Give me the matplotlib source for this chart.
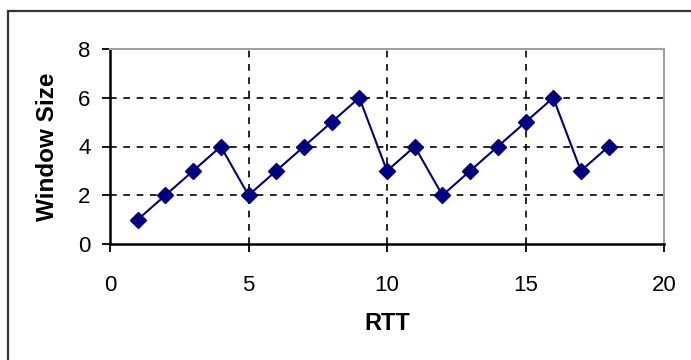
import matplotlib.pyplot as plt
import matplotlib.patches as patches

rtt = [1, 2, 3, 4, 5, 6, 7, 8, 9, 10, 11, 12, 13, 14, 15, 16, 17, 18]
window = [1, 2, 3, 4, 2, 3, 4, 5, 6, 3, 4, 2, 3, 4, 5, 6, 3, 4]
xticks = [0, 5, 10, 15, 20]
yticks = [0, 2, 4, 6, 8]

plt.rcParams['font.family'] = ['Liberation Sans', 'DejaVu Sans']

fig = plt.figure(figsize=(6.91, 3.6), dpi=100)
ax = fig.add_axes([110/691, 1-244/360, (664-110)/691, (244-49)/360])

# outer chart-area border (only left/top visible in the crop)
fig.patches.append(patches.Rectangle((8/691, -0.1), 1.2, 1.1-11/360, transform=fig.transFigure,
                                     fill=False, edgecolor='#333333', linewidth=1.6))

ax.plot(rtt, window, color='#000080', linewidth=1.5, marker='D', markersize=8,
        markerfacecolor='#000080', markeredgecolor='#000080', zorder=3)

ax.set_xlim(0, 20)
ax.set_ylim(0, 8)
ax.set_xticks(xticks)
ax.set_yticks(yticks)

for x in [5, 10, 15, 20]:
    ax.axvline(x, color='black', linestyle=(0, (4, 4)), linewidth=1.2, zorder=1)
for y in [2, 4, 6]:
    ax.axhline(y, color='black', linestyle=(0, (4, 4)), linewidth=1.2, zorder=1)

ax.spines['top'].set_color('#a0a0a0')
ax.spines['right'].set_color('#a0a0a0')
ax.spines['left'].set_color('black')
ax.spines['bottom'].set_color('black')
ax.spines['left'].set_linewidth(1.8)
ax.spines['bottom'].set_linewidth(1.8)
ax.spines['top'].set_linewidth(1.5)
ax.spines['right'].set_linewidth(1.5)

ax.tick_params(axis='y', direction='out', length=6, width=1.3, labelsize=16, pad=8)
ax.tick_params(axis='x', direction='out', length=6, width=1.3, labelsize=16, pad=16)

ax.set_xlabel('RTT', fontsize=17, fontweight='bold', labelpad=12)
ax.set_ylabel('Window Size', fontsize=17.5, fontweight='bold', labelpad=14)

fig.savefig('out.png', dpi=100)
